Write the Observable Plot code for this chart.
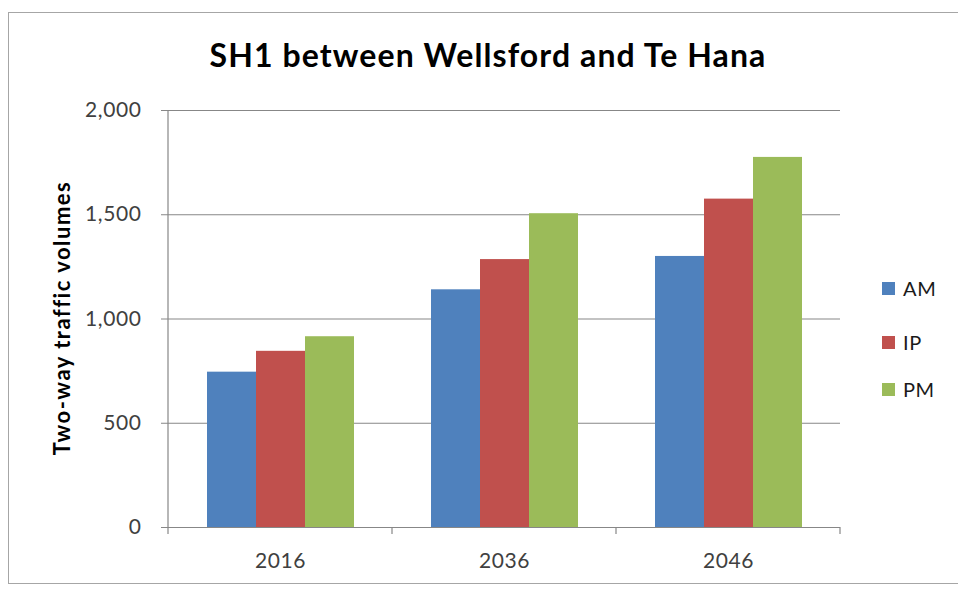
<!DOCTYPE html>
<html><head><meta charset="utf-8">
<script src="https://cdn.jsdelivr.net/npm/d3@7"></script>
<script src="https://cdn.jsdelivr.net/npm/@observablehq/plot@0.6"></script>
<style>
body{margin:0;background:#fff;}
#wrap{position:relative;width:958px;height:589px;overflow:hidden;font-family:Lato,"Open Sans",sans-serif;background:#fff;}
#frame{position:absolute;left:8px;top:12px;width:980px;height:572px;border:1px solid #a6a6a6;box-sizing:border-box;}
#title{position:absolute;left:0;width:976px;top:39px;text-align:center;font-weight:bold;font-size:32px;letter-spacing:1.1px;color:#000;line-height:1;}
#ylab{position:absolute;left:62px;top:318px;transform:translate(-50%,-50%) rotate(-90deg);white-space:nowrap;font-weight:bold;font-size:22px;letter-spacing:1.5px;color:#000;line-height:1;}
#legend{position:absolute;left:882px;top:0;}
.li{position:absolute;left:0;display:flex;align-items:center;white-space:nowrap;font-size:20px;letter-spacing:0.6px;color:#1a1a1a;line-height:1;}
.sw{width:13px;height:13px;margin-right:8px;}
#chart{position:absolute;left:0;top:0;}
#chart [aria-label="y-axis tick"] path{stroke:#878787;}
#chart text{letter-spacing:0.6px;}
</style>
</head><body>
<div id="wrap">
<div id="frame"></div>
<div id="chart"></div>
<div id="title"></div>
<div id="ylab"></div>
<div id="legend"></div>
</div>
<script>
const titleText = "SH1 between Wellsford and Te Hana";
const yLabel = "Two-way traffic volumes";
const years = ["2016", "2036", "2046"];
const series = ["AM", "IP", "PM"];
const am = [745, 1140, 1300];
const ip = [845, 1285, 1575];
const pm = [915, 1505, 1775];
const colors = ["#4f81bd", "#c0504d", "#9bbb59"];
const yTicks = [0, 500, 1000, 1500, 2000];

const values = [am, ip, pm];
const data = [];
years.forEach((yr, i) => series.forEach((s, j) => data.push({year: yr, series: s, value: values[j][i]})));

const plot = Plot.plot({
  width: 958, height: 589,
  marginLeft: 167, marginRight: 118, marginTop: 110, marginBottom: 62,
  style: {fontFamily: "Lato, 'Open Sans', sans-serif", fontSize: "21px", color: "#404040", background: "transparent", overflow: "visible"},
  fx: {domain: years, padding: 0, axis: "bottom", label: null, tickSize: 0, tickPadding: 26},
  x: {domain: series, axis: null, paddingInner: 0, paddingOuter: 0.74},
  y: {domain: [0, 2000], ticks: yTicks, tickFormat: d3.format(","), tickSize: 7, tickPadding: 20, label: null},
  color: {domain: series, range: colors},
  marks: [
    Plot.ruleY(yTicks.slice(1), {stroke: "#878787", strokeOpacity: 1, strokeWidth: 1.2}),
    Plot.barY(data, {fx: "year", x: "series", y: "value", fill: "series", inset: 0}),
    Plot.ruleY([0], {stroke: "#878787", strokeOpacity: 1, strokeWidth: 1.2})
  ]
});
document.getElementById("chart").appendChild(plot);

// axis line and category boundary ticks, from the plot's own scales
const fx = plot.scale("fx"), y = plot.scale("y");
const svg = d3.select(plot);
const g = svg.append("g").attr("stroke", "#878787").attr("stroke-width", 1.2);
const x0 = fx.apply(years[0]);
g.append("line").attr("x1", x0).attr("x2", x0).attr("y1", y.apply(2000)).attr("y2", y.apply(0) + 7);
years.forEach(yr => {
  const xb = fx.apply(yr) + fx.bandwidth;
  g.append("line").attr("x1", xb).attr("x2", xb).attr("y1", y.apply(0)).attr("y2", y.apply(0) + 7);
});

document.getElementById("title").textContent = titleText;
document.getElementById("ylab").textContent = yLabel;
const legendTops = [278, 332, 379];
const leg = document.getElementById("legend");
series.forEach((s, i) => {
  const d = document.createElement("div");
  d.className = "li";
  d.style.top = legendTops[i] + "px";
  d.innerHTML = `<div class="sw" style="background:${colors[i]}"></div><span>${s}</span>`;
  leg.appendChild(d);
});
</script>
</body></html>
